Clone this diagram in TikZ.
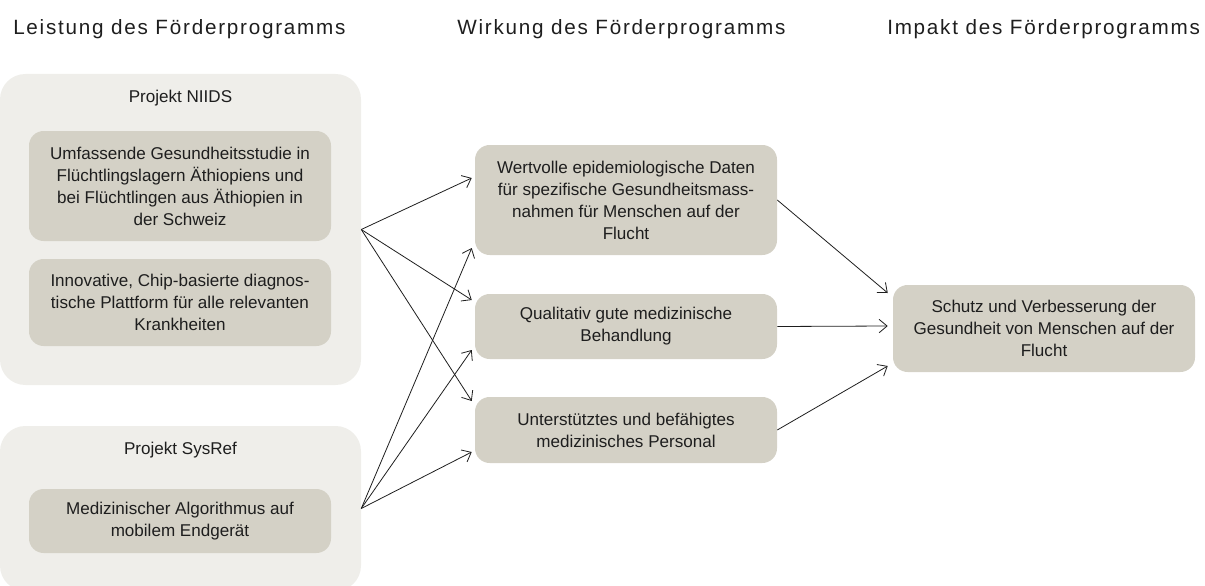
\documentclass[tikz,border=0pt]{standalone}
\usepackage{fontspec}
\setmainfont{Liberation Sans}
\newfontfamily\headfont[LetterSpace=8.5]{Liberation Sans}
\usepackage{tikz}
\usetikzlibrary{positioning,calc,arrows.meta}
\definecolor{ink}  {HTML}{1E1E1E}
\definecolor{sand} {HTML}{D4D1C6}
\definecolor{fog}  {HTML}{EFEEEA}
\tikzset{
  % --- nodes
  grp/.style  = {rounded corners=19pt, fill=fog, inner sep=0pt, minimum width=270.75pt},
  box/.style  = {rounded corners=11pt, fill=sand, align=center, text=ink, inner sep=0pt,
                 minimum width=226.5pt, font=\fontsize{12.8}{16.5}\selectfont},
  head/.style = {anchor=base west, inner sep=0pt, text=ink, font=\headfont\fontsize{15.5}{18}\selectfont},
  ttl/.style  = {anchor=base, inner sep=0pt, text=ink, font=\fontsize{12.8}{16}\selectfont},
  % --- edges
  e/.style    = {-{Straight Barb[length=6pt,width=10pt]}, line width=0.6pt, draw=ink},
}

\begin{document}
\begin{tikzpicture}[x=0.75pt,y=-0.75pt]
  \useasboundingbox (0,0) rectangle (1205,585);
  \clip (0,0) rectangle (1205,585);

  \node[head] (hleist) at (13,35)  {Leistung des Förderprogramms};
  \node[head] (hwirk)  at (457,35) {Wirkung des Förderprogramms};
  \node[head] (himp)   at (887,35) {Impakt des Förderprogramms};

  % Leistung
  \node[grp, minimum height=233.25pt] (niids)  at (180.5,229.5) {};
  \node[grp, minimum height=123.75pt] (sysref) at (180.5,508.5) {};
  \node[ttl] (niidsttl)  at (180.5,102) {Projekt NIIDS};
  \node[ttl] (sysrefttl) at (180.5,454) {Projekt SysRef};

  \node[box, minimum height=82.5pt] (studie) at (180,186)
    {Umfassende Gesundheitsstudie in\\Flüchtlingslagern Äthiopiens und\\bei Flüchtlingen aus Äthiopien in\\der Schweiz};
  \node[box, minimum height=65.25pt] (chip) at (180,302.5)
    {Innovative, Chip-basierte diagnos-\\tische Plattform für alle relevanten\\Krankheiten};
  \node[box, minimum height=48pt] (algo) at (180,521)
    {Medizinischer Algorithmus auf\\mobilem Endgerät};

  % Wirkung
  \node[box, minimum height=82.5pt] (daten) at (626,200)
    {Wertvolle epidemiologische Daten\\für spezifische Gesundheitsmass-\\nahmen für Menschen auf der\\Flucht};
  \node[box, minimum height=48.75pt] (behand) at (626,326.5)
    {Qualitativ gute medizinische\\Behandlung};
  \node[box, minimum height=49.5pt] (personal) at (626,430)
    {Unterstütztes und befähigtes\\medizinisches Personal};

  % Impakt
  \node[box, minimum height=65.25pt] (schutz) at (1044,328.5)
    {Schutz und Verbesserung der\\Gesundheit von Menschen auf der\\Flucht};

  \foreach \t/\dy in {daten/-22, behand/-26.5, personal/-29}
    \draw[e] (niids.east) -- ($(\t.west)+(-3,\dy)$);
  \foreach \t/\dy in {daten/48, behand/23.5, personal/22}
    \draw[e] (sysref.east) -- ($(\t.west)+(-3,\dy)$);
  \foreach \s/\dy in {daten/-35.5, behand/-2.5, personal/37.5}
    \draw[e] (\s.east) -- ($(schutz.west)+(-5,\dy)$);
\end{tikzpicture}
\end{document}
